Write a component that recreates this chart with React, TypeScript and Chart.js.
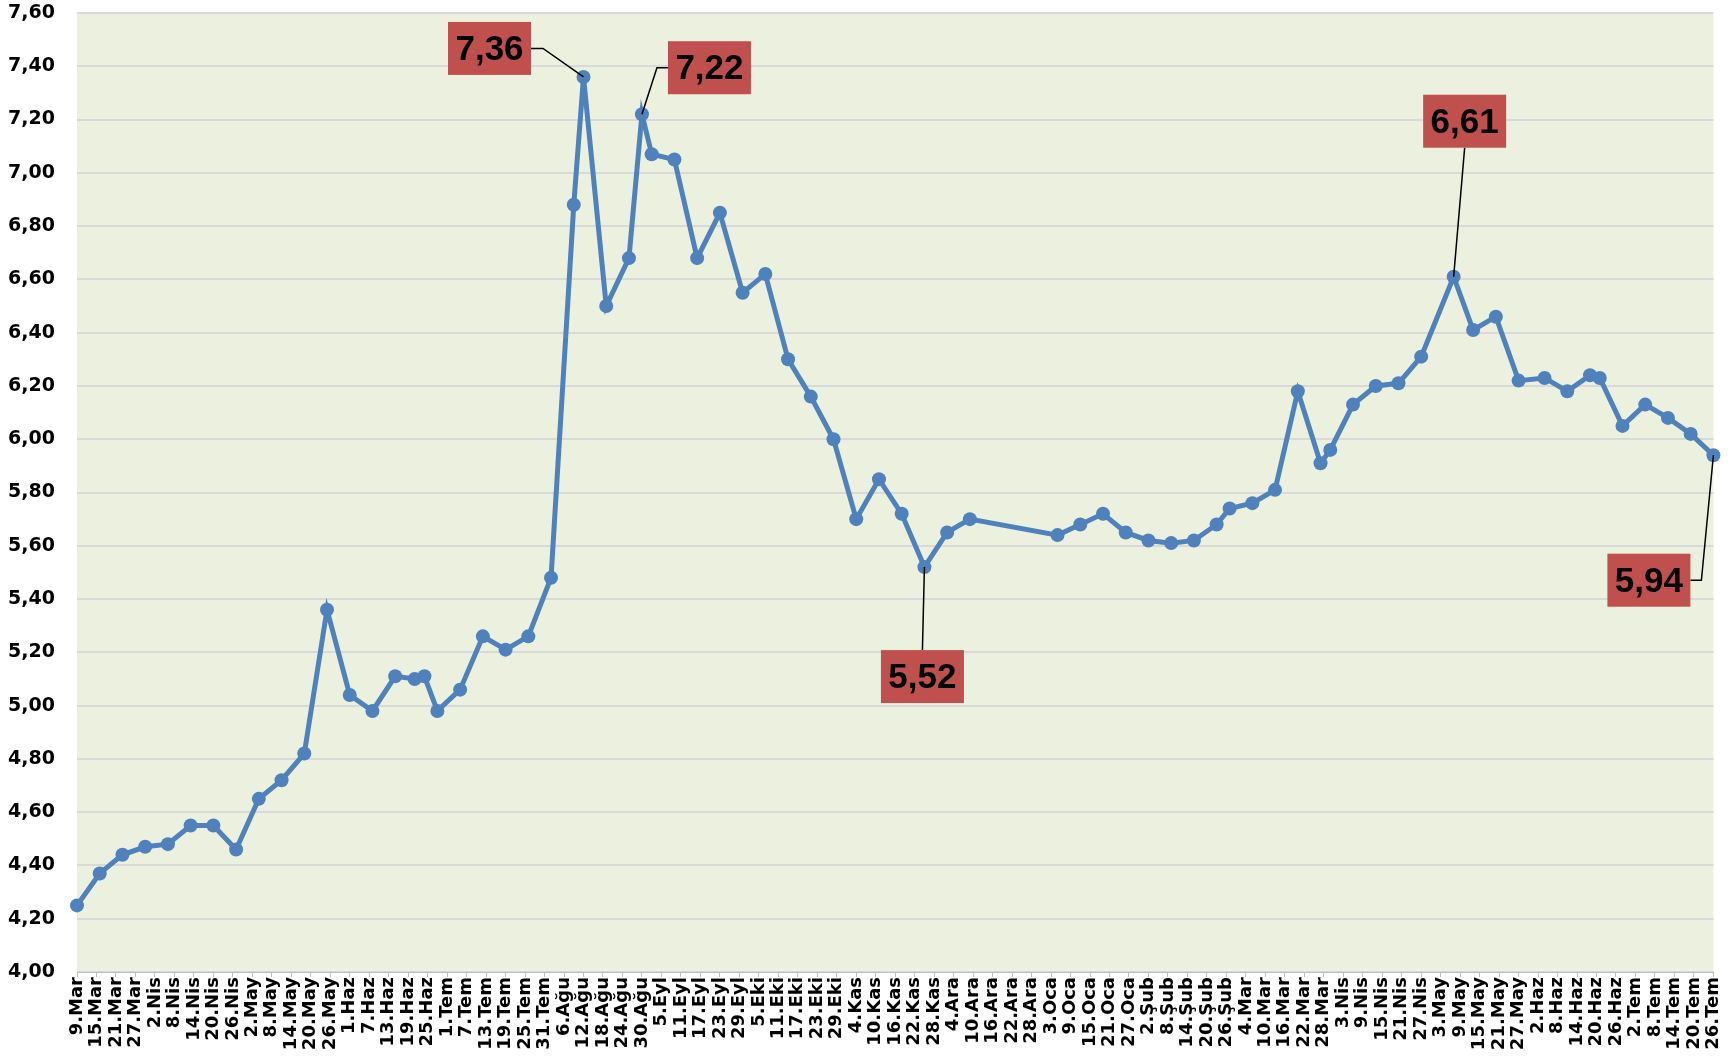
import React, { useEffect, useRef } from "react";
import { Chart, registerables } from "chart.js";

Chart.register(...registerables);

// Observation dates (ISO) and values
const dates: string[] = [
  "2020-03-09", "2020-03-16", "2020-03-23", "2020-03-30", "2020-04-06", "2020-04-13", "2020-04-20", "2020-04-27",
  "2020-05-04", "2020-05-11", "2020-05-18", "2020-05-25", "2020-06-01", "2020-06-08", "2020-06-15", "2020-06-21",
  "2020-06-24", "2020-06-28", "2020-07-05", "2020-07-12", "2020-07-19", "2020-07-26", "2020-08-02", "2020-08-09",
  "2020-08-12", "2020-08-19", "2020-08-26", "2020-08-30", "2020-09-02", "2020-09-09", "2020-09-16", "2020-09-23",
  "2020-09-30", "2020-10-07", "2020-10-14", "2020-10-21", "2020-10-28", "2020-11-04", "2020-11-11", "2020-11-18",
  "2020-11-25", "2020-12-02", "2020-12-09", "2021-01-05", "2021-01-12", "2021-01-19", "2021-01-26", "2021-02-02",
  "2021-02-09", "2021-02-16", "2021-02-23", "2021-02-27", "2021-03-06", "2021-03-13", "2021-03-20", "2021-03-27",
  "2021-03-30", "2021-04-06", "2021-04-13", "2021-04-20", "2021-04-27", "2021-05-07", "2021-05-13", "2021-05-20",
  "2021-05-27", "2021-06-04", "2021-06-11", "2021-06-18", "2021-06-21", "2021-06-28", "2021-07-05", "2021-07-12",
  "2021-07-19", "2021-07-26",
];

const values: number[] = [
  4.25, 4.37, 4.44, 4.47, 4.48, 4.55, 4.55, 4.46,
  4.65, 4.72, 4.82, 5.36, 5.04, 4.98, 5.11, 5.10,
  5.11, 4.98, 5.06, 5.26, 5.21, 5.26, 5.48, 6.88,
  7.36, 6.50, 6.68, 7.22, 7.07, 7.05, 6.68, 6.85,
  6.55, 6.62, 6.30, 6.16, 6.00, 5.70, 5.85, 5.72,
  5.52, 5.65, 5.70, 5.64, 5.68, 5.72, 5.65, 5.62,
  5.61, 5.62, 5.68, 5.74, 5.76, 5.81, 6.18, 5.91,
  5.96, 6.13, 6.20, 6.21, 6.31, 6.61, 6.41, 6.46,
  6.22, 6.23, 6.18, 6.24, 6.23, 6.05, 6.13, 6.08,
  6.02, 5.94,
];

// Axis tick labels, one every 6 days starting 9 March 2020
const tickLabels: string[] = [
  "9.Mar", "15.Mar", "21.Mar", "27.Mar", "2.Nis", "8.Nis", "14.Nis", "20.Nis", "26.Nis", "2.May",
  "8.May", "14.May", "20.May", "26.May", "1.Haz", "7.Haz", "13.Haz", "19.Haz", "25.Haz", "1.Tem",
  "7.Tem", "13.Tem", "19.Tem", "25.Tem", "31.Tem", "6.Ağu", "12.Ağu", "18.Ağu", "24.Ağu", "30.Ağu",
  "5.Eyl", "11.Eyl", "17.Eyl", "23.Eyl", "29.Eyl", "5.Eki", "11.Eki", "17.Eki", "23.Eki", "29.Eki",
  "4.Kas", "10.Kas", "16.Kas", "22.Kas", "28.Kas", "4.Ara", "10.Ara", "16.Ara", "22.Ara", "28.Ara",
  "3.Oca", "9.Oca", "15.Oca", "21.Oca", "27.Oca", "2.Şub", "8.Şub", "14.Şub", "20.Şub", "26.Şub",
  "4.Mar", "10.Mar", "16.Mar", "22.Mar", "28.Mar", "3.Nis", "9.Nis", "15.Nis", "21.Nis", "27.Nis",
  "3.May", "9.May", "15.May", "21.May", "27.May", "2.Haz", "8.Haz", "14.Haz", "20.Haz", "26.Haz",
  "2.Tem", "8.Tem", "14.Tem", "20.Tem", "26.Tem",
];
const TICK_STEP_DAYS = 6;

// Highlighted points (by date)
const calloutDates: string[] = ["2020-08-12", "2020-08-30", "2020-11-25", "2021-05-07", "2021-07-26"];

// Placement of the callout boxes (styling, not data)
const calloutPlacement = [
  { dx: -94, dy: -28.5, side: "right", elbow: 12 },
  { dx: 67.5, dy: -46.5, side: "left", elbow: 11 },
  { dx: -2, dy: 109.5, side: "top", elbow: 0 },
  { dx: 11, dy: -155.5, side: "bottom", elbow: 0 },
  { dx: -64.5, dy: 125, side: "right", elbow: 11 },
];

const START = Date.UTC(2020, 2, 9);
const dayOf = (s: string) => {
  const [y, m, d] = s.split("-").map(Number);
  return Math.round((Date.UTC(y, m - 1, d) - START) / 86400000);
};
const fmt = (v: number) => v.toFixed(2).replace(".", ",");

const W = 1735;
const H = 1056;
const PLOT_LEFT = 77;
const PLOT_TOP = 13;
const PLOT_RIGHT = 1718;
const PLOT_BOTTOM = 972;

const bgPlugin = {
  id: "plotBg",
  beforeDraw(chart: any) {
    const { ctx, chartArea } = chart;
    ctx.save();
    ctx.fillStyle = "#EBF1DE";
    ctx.fillRect(chartArea.left, chartArea.top, chartArea.right - chartArea.left, chartArea.bottom - chartArea.top);
    ctx.restore();
  },
};

const calloutPlugin = {
  id: "callouts",
  afterDatasetsDraw(chart: any) {
    const { ctx } = chart;
    const xs = chart.scales.x;
    const ys = chart.scales.y;
    const bw = 83;
    const bh = 53;
    ctx.save();
    calloutDates.forEach((d, k) => {
      const i = dates.indexOf(d);
      if (i < 0) return;
      const px = xs.getPixelForValue(dayOf(d));
      const py = ys.getPixelForValue(values[i]);
      const p = calloutPlacement[k];
      const cx = px + p.dx;
      const cy = py + p.dy;
      ctx.strokeStyle = "#000";
      ctx.lineWidth = 1.5;
      ctx.beginPath();
      if (p.side === "right") {
        ctx.moveTo(cx + bw / 2, cy);
        ctx.lineTo(cx + bw / 2 + p.elbow, cy);
      } else if (p.side === "left") {
        ctx.moveTo(cx - bw / 2, cy);
        ctx.lineTo(cx - bw / 2 - p.elbow, cy);
      } else if (p.side === "top") {
        ctx.moveTo(cx, cy - bh / 2);
      } else {
        ctx.moveTo(cx, cy + bh / 2);
      }
      ctx.lineTo(px, py);
      ctx.stroke();
      ctx.fillStyle = "#C0504D";
      ctx.fillRect(cx - bw / 2, cy - bh / 2, bw, bh);
      ctx.fillStyle = "#000";
      ctx.font = "bold 35px 'Liberation Sans', Arial, sans-serif";
      ctx.textAlign = "center";
      ctx.textBaseline = "middle";
      ctx.fillText(fmt(values[i]), cx, cy + 2);
    });
    ctx.restore();
  },
};

export default function App() {
  const ref = useRef<HTMLCanvasElement>(null);
  useEffect(() => {
    if (!ref.current) return;
    const chart = new Chart(ref.current, {
      type: "line",
      data: {
        datasets: [
          {
            data: dates.map((d, i) => ({ x: dayOf(d), y: values[i] })),
            borderColor: "#4F81BD",
            backgroundColor: "#4F81BD",
            borderWidth: 5,
            pointRadius: 7,
            pointHoverRadius: 7,
            pointBorderWidth: 0,
            pointBackgroundColor: "#4F81BD",
            tension: 0,
            clip: false,
          },
        ],
      },
      options: {
        responsive: false,
        maintainAspectRatio: false,
        animation: false,
        layout: { padding: { left: 0, top: PLOT_TOP, right: W - PLOT_RIGHT, bottom: 0 } },
        plugins: { legend: { display: false }, tooltip: { enabled: false } },
        scales: {
          x: {
            type: "linear",
            min: 0,
            max: (tickLabels.length - 1) * TICK_STEP_DAYS,
            afterFit: (s: any) => {
              s.height = H - PLOT_BOTTOM;
            },
            grid: { drawOnChartArea: false, drawTicks: true, tickLength: 5, color: "#BFBFBF", lineWidth: 1 },
            border: { display: true, color: "#BFBFBF", width: 1 },
            ticks: {
              stepSize: TICK_STEP_DAYS,
              autoSkip: false,
              maxRotation: 90,
              minRotation: 90,
              padding: 0,
              color: "#000",
              font: { family: "'DejaVu Sans', sans-serif", size: 18, weight: "bold" },
              callback: (v: any) => tickLabels[Math.round(Number(v) / TICK_STEP_DAYS)] ?? "",
            },
          },
          y: {
            type: "linear",
            min: 4,
            max: 7.6,
            afterFit: (s: any) => {
              s.width = PLOT_LEFT;
            },
            grid: { drawTicks: true, tickLength: 22, tickColor: "rgba(0,0,0,0)", color: "#D9D9D9", lineWidth: 2 },
            border: { display: false },
            ticks: {
              stepSize: 0.2,
              padding: 0,
              color: "#000",
              font: { family: "'DejaVu Sans', sans-serif", size: 19, weight: "bold" },
              callback: (v: any) => fmt(Number(v)),
            },
          },
        },
      },
      plugins: [bgPlugin, calloutPlugin],
    } as any);
    return () => chart.destroy();
  }, []);
  return (
    <div style={{ position: "fixed", left: 0, top: 0, width: W, height: H, background: "#fff" }}>
      <canvas ref={ref} width={W} height={H} style={{ display: "block" }} />
    </div>
  );
}
